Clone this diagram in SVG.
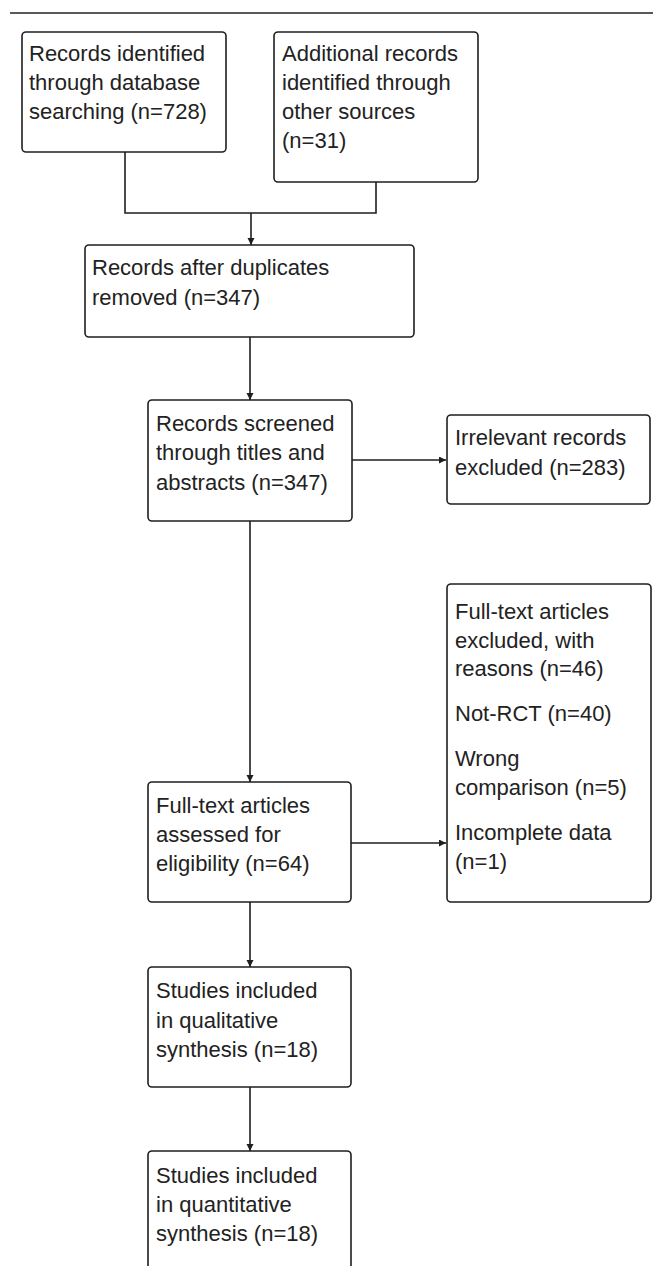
<svg xmlns="http://www.w3.org/2000/svg" width="653" height="1266" viewBox="0 0 653 1266">
<style>
.box{fill:#fff;stroke:#1e1e1e;stroke-width:1.6}
.t{font-family:"Liberation Sans",Arial,sans-serif;font-size:22px;fill:#222}
.c{fill:none;stroke:#1e1e1e;stroke-width:1.6}
</style>
<defs>
<marker id="ah" markerUnits="userSpaceOnUse" markerWidth="8" markerHeight="8" refX="7" refY="3.5" orient="auto">
<path d="M0,0 L7,3.5 L0,7 z" fill="#1e1e1e"/>
</marker>
</defs>
<rect width="653" height="1266" fill="#fff"/>
<line x1="10" y1="13" x2="653" y2="13" stroke="#222" stroke-width="1.6"/>
<g id="connectors">
<path class="c" d="M125,152 V213 H376 V182"/>
<path class="c" d="M251,213 V245" marker-end="url(#ah)"/>
<path class="c" d="M250,337 V400" marker-end="url(#ah)"/>
<path class="c" d="M352,460 H446" marker-end="url(#ah)"/>
<path class="c" d="M250,521 V782" marker-end="url(#ah)"/>
<path class="c" d="M351,843 H446" marker-end="url(#ah)"/>
<path class="c" d="M250,902 V967" marker-end="url(#ah)"/>
<path class="c" d="M250,1087 V1151" marker-end="url(#ah)"/>
</g>
<g id="n1">
<rect class="box" x="22" y="32" width="204" height="120" rx="4"/>
<text class="t" x="29"><tspan x="29" y="61">Records identified</tspan><tspan x="29" y="90">through database</tspan><tspan x="29" y="119">searching (n=728)</tspan></text>
</g>
<g id="n2">
<rect class="box" x="274" y="32" width="204" height="150" rx="4"/>
<text class="t"><tspan x="282" y="61">Additional records</tspan><tspan x="282" y="90">identified through</tspan><tspan x="282" y="119">other sources</tspan><tspan x="282" y="148">(n=31)</tspan></text>
</g>
<g id="n3">
<rect class="box" x="85" y="245" width="329" height="92" rx="4"/>
<text class="t"><tspan x="92" y="275">Records after duplicates</tspan><tspan x="92" y="305">removed (n=347)</tspan></text>
</g>
<g id="n4">
<rect class="box" x="148" y="400" width="204" height="121" rx="4"/>
<text class="t"><tspan x="156" y="431">Records screened</tspan><tspan x="156" y="460">through titles and</tspan><tspan x="156" y="490">abstracts (n=347)</tspan></text>
</g>
<g id="n5">
<rect class="box" x="447" y="415" width="203" height="89" rx="4"/>
<text class="t"><tspan x="455" y="445">Irrelevant records</tspan><tspan x="455" y="475">excluded (n=283)</tspan></text>
</g>
<g id="n6">
<rect class="box" x="447" y="584" width="204" height="318" rx="4"/>
<text class="t"><tspan x="455" y="619">Full-text articles</tspan><tspan x="455" y="648">excluded, with</tspan><tspan x="455" y="676">reasons (n=46)</tspan><tspan x="455" y="721">Not-RCT (n=40)</tspan><tspan x="455" y="766">Wrong</tspan><tspan x="455" y="795">comparison (n=5)</tspan><tspan x="455" y="840">Incomplete data</tspan><tspan x="455" y="869">(n=1)</tspan></text>
</g>
<g id="n7">
<rect class="box" x="148" y="782" width="203" height="120" rx="4"/>
<text class="t"><tspan x="156" y="813">Full-text articles</tspan><tspan x="156" y="842">assessed for</tspan><tspan x="156" y="871">eligibility (n=64)</tspan></text>
</g>
<g id="n8">
<rect class="box" x="148" y="967" width="203" height="120" rx="4"/>
<text class="t"><tspan x="156" y="998">Studies included</tspan><tspan x="156" y="1028">in qualitative</tspan><tspan x="156" y="1057">synthesis (n=18)</tspan></text>
</g>
<g id="n9">
<rect class="box" x="148" y="1151" width="203" height="130" rx="4"/>
<text class="t"><tspan x="156" y="1183">Studies included</tspan><tspan x="156" y="1212">in quantitative</tspan><tspan x="156" y="1241">synthesis (n=18)</tspan></text>
</g>
</svg>
